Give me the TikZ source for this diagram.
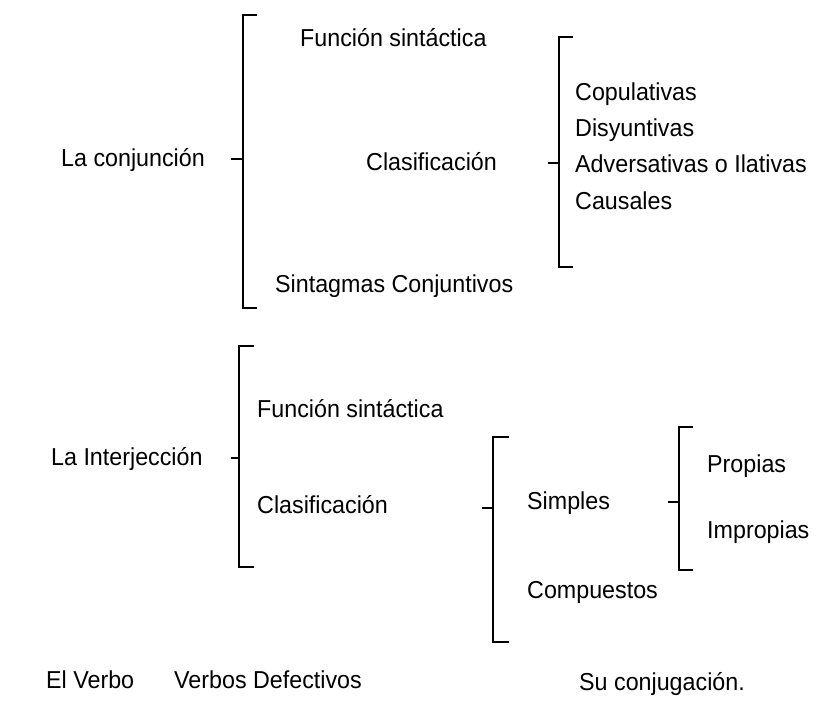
\documentclass[tikz,border=0pt]{standalone}
\usepackage{fontspec}
\setmainfont[FakeStretch=0.95]{Liberation Sans}
\begin{document}
\begin{tikzpicture}[x=1pt,y=-1pt,
  every node/.style={inner sep=0pt},
  lbl/.style={anchor=base west, font=\fontsize{24.5}{28}\selectfont},
  brk/.style={line width=1.7pt, line cap=butt, line join=miter}]
\useasboundingbox (0,0) rectangle (830,709);
% texts
\node[lbl] (conj) at (61,166) {La conjunción};
\node[lbl] (fs1) at (300,47) {Función sintáctica};
\node[lbl] (cl1) at (366,170) {Clasificación};
\node[lbl] (sc) at (275,292) {Sintagmas Conjuntivos};
\node[lbl] (cop) at (575,100) {Copulativas};
\node[lbl] (dis) at (575,136) {Disyuntivas};
\node[lbl] (adv) at (575,172) {Adversativas o Ilativas};
\node[lbl] (cau) at (575,209) {Causales};
\node[lbl] (inter) at (51,465) {La Interjección};
\node[lbl] (fs2) at (257,417) {Función sintáctica};
\node[lbl] (cl2) at (257,513) {Clasificación};
\node[lbl] (sim) at (527,509) {Simples};
\node[lbl] (com) at (527,598) {Compuestos};
\node[lbl] (pro) at (707,472) {Propias};
\node[lbl] (imp) at (707,538) {Impropias};
\node[lbl] (verbo) at (46,688) {El Verbo};
\node[lbl] (def) at (174,688) {Verbos Defectivos};
\node[lbl] (conjug) at (579,690) {Su conjugación.};
% brackets
\draw[brk] (257,15) -- (243,15) -- (243,308) -- (257,308);
\draw[brk] (231,159) -- (243,159);
\draw[brk] (573,37) -- (559,37) -- (559,267) -- (573,267);
\draw[brk] (548,163) -- (559,163);
\draw[brk] (254,346) -- (239,346) -- (239,567) -- (254,567);
\draw[brk] (231,458) -- (239,458);
\draw[brk] (509,437) -- (493,437) -- (493,642) -- (509,642);
\draw[brk] (482,508) -- (493,508);
\draw[brk] (693,427) -- (679,427) -- (679,570) -- (693,570);
\draw[brk] (668,502) -- (679,502);
\end{tikzpicture}
\end{document}
